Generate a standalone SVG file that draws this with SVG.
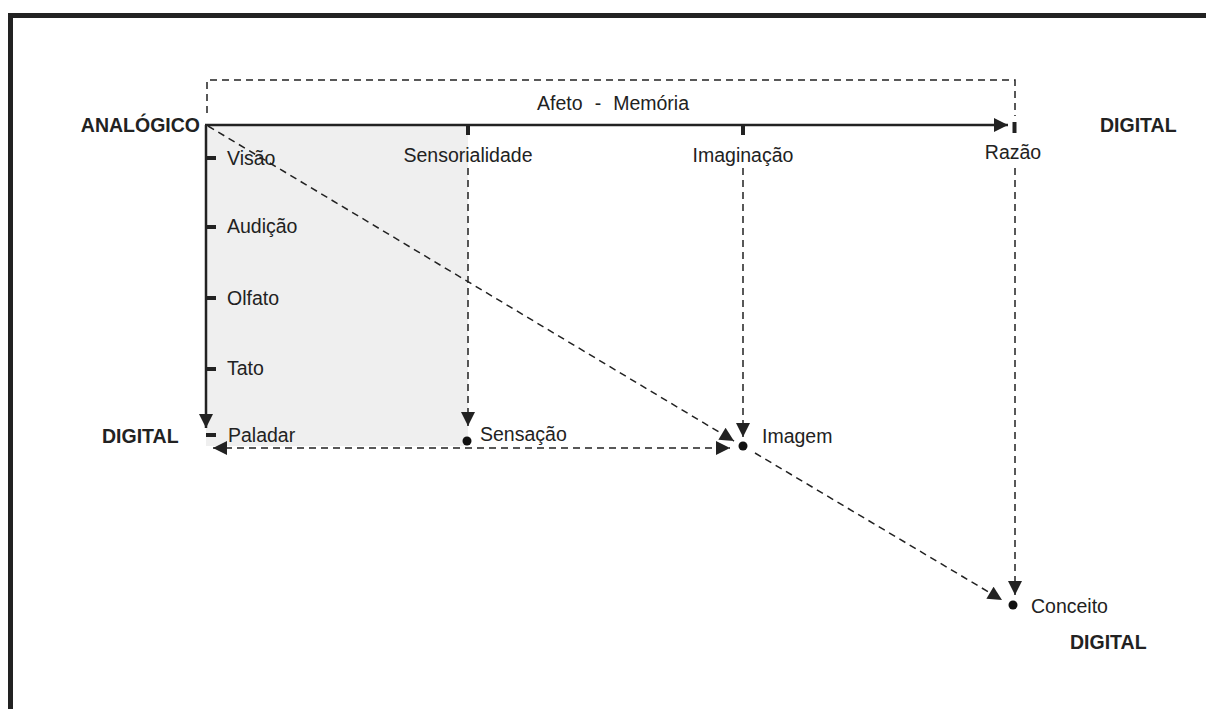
<svg xmlns="http://www.w3.org/2000/svg" width="1206" height="709" viewBox="0 0 1206 709">
<defs>
<style>
.t{font-family:"Liberation Sans",Arial,sans-serif;font-size:19.5px;fill:#222}
.b{font-family:"Liberation Sans",Arial,sans-serif;font-size:19.5px;font-weight:bold;fill:#222}
.solid{stroke:#222;stroke-width:2.5;fill:none}
.dash{stroke:#222;stroke-width:1.5;fill:none;stroke-dasharray:7 5}
.tick{stroke:#222;stroke-width:4;fill:none}
</style>
<marker id="ah2" viewBox="0 0 10 10" refX="10" refY="5" markerWidth="18" markerHeight="14" markerUnits="userSpaceOnUse" orient="auto">
<path d="M0,0 L10,5 L0,10 Z" fill="#222"/>
</marker>
<marker id="ah2s" viewBox="0 0 10 10" refX="0" refY="5" markerWidth="18" markerHeight="14" markerUnits="userSpaceOnUse" orient="auto">
<path d="M10,0 L0,5 L10,10 Z" fill="#222"/>
</marker>
</defs>
<rect x="0" y="0" width="1206" height="709" fill="#fff"/>
<path d="M10.5,709 V15.5 H1206" fill="none" stroke="#222" stroke-width="5"/>
<rect id="shade" x="206" y="125" width="262" height="321" fill="#efefef"/>
<g id="connectors">
<path class="dash" d="M207,113 V80 H1015 V116"/>
<path class="solid" d="M205,125 H1008" marker-end="url(#ah2)"/>
<path class="solid" d="M206,125 V428" marker-end="url(#ah2)"/>
<path class="dash" d="M468,168 V426" marker-end="url(#ah2)"/>
<path class="dash" d="M743,168 V437" marker-end="url(#ah2)"/>
<path class="dash" d="M1015,168 V595" marker-end="url(#ah2)"/>
<path class="dash" d="M208,126 L734,441" marker-end="url(#ah2)"/>
<path class="dash" d="M755,453 L1002,600" marker-end="url(#ah2)"/>
<path class="dash" d="M213,448 H730" marker-start="url(#ah2s)" marker-end="url(#ah2)"/>
</g>
<g id="ticks">
<path class="tick" d="M468,125 V135 M743,125 V135 M1014.5,122 V133"/>
<path class="tick" d="M206,158 H216 M206,227 H216 M206,298 H216 M206,369 H216 M206,435 H216"/>
</g>
<g id="node-analogico"><text class="b" x="200" y="132" text-anchor="end">ANALÓGICO</text></g>
<g id="node-digital-top"><text class="b" x="1100" y="132">DIGITAL</text></g>
<g id="node-afeto"><text class="t" x="537" y="110">Afeto</text><text class="t" x="598" y="110" text-anchor="middle">-</text><text class="t" x="689" y="110" text-anchor="end">Memória</text></g>
<g id="node-sensorialidade"><text class="t" x="468" y="162" text-anchor="middle">Sensorialidade</text></g>
<g id="node-imaginacao"><text class="t" x="743" y="162" text-anchor="middle">Imaginação</text></g>
<g id="node-razao"><text class="t" x="1013" y="159" text-anchor="middle">Razão</text></g>
<g id="node-visao"><text class="t" x="227" y="165">Visão</text></g>
<g id="node-audicao"><text class="t" x="227" y="233">Audição</text></g>
<g id="node-olfato"><text class="t" x="227" y="305">Olfato</text></g>
<g id="node-tato"><text class="t" x="227" y="375">Tato</text></g>
<g id="node-paladar"><text class="t" x="228" y="442">Paladar</text></g>
<g id="node-digital-left"><text class="b" x="102" y="443">DIGITAL</text></g>
<g id="node-sensacao"><circle cx="467" cy="441" r="4.5" fill="#111"/><text class="t" x="480" y="441">Sensação</text></g>
<g id="node-imagem"><circle cx="743" cy="446" r="4.5" fill="#111"/><text class="t" x="762" y="443">Imagem</text></g>
<g id="node-conceito"><circle cx="1013" cy="605" r="4.5" fill="#111"/><text class="t" x="1031" y="613">Conceito</text></g>
<g id="node-digital-bottom"><text class="b" x="1070" y="649">DIGITAL</text></g>
</svg>
